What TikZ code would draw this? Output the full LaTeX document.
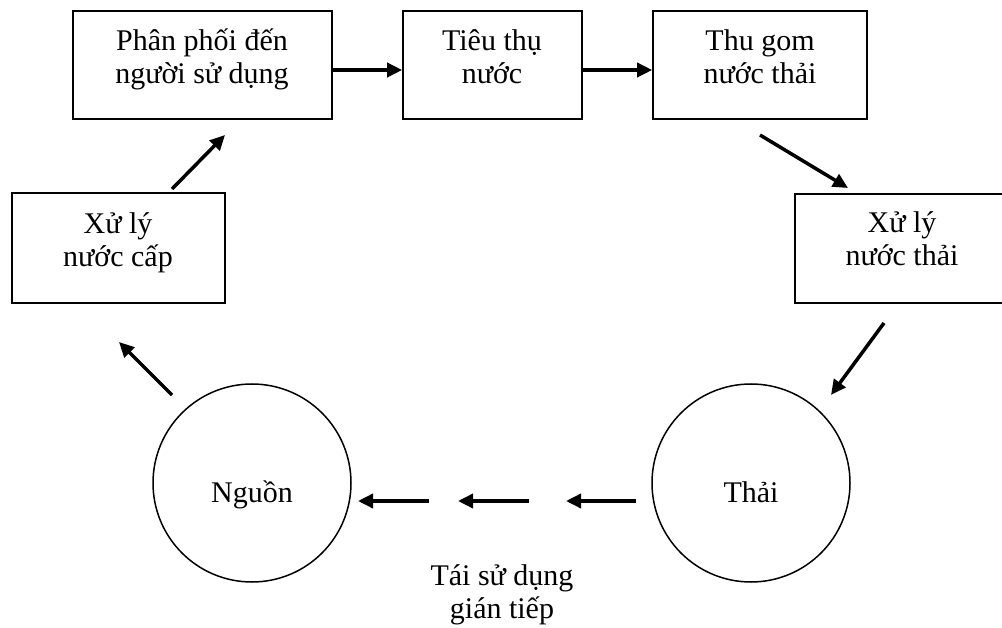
\documentclass[tikz,border=0pt]{standalone}
\usepackage{fontspec}
\setmainfont{Liberation Serif}
\usetikzlibrary{arrows.meta,calc}
\tikzset{
  box/.style={draw, line width=1.6pt, rectangle, inner sep=0pt},
  ring/.style={draw, line width=1.5pt, circle, inner sep=0pt, minimum size=198pt},
  lbl/.style={align=center, inner sep=0pt, font=\fontsize{30}{33}\selectfont},
  flow/.style={line width=3.5pt, -{Triangle[length=15pt,width=14pt]}}
}
\begin{document}
\begin{tikzpicture}[x=1pt,y=-1pt]
\useasboundingbox (0,0) rectangle (1002,628);
\clip (0,0) rectangle (1002,628);
% boxes
\node[box, minimum width=259pt, minimum height=108pt] (b1) at (202.5,65) {};
\node[box, minimum width=179pt, minimum height=108pt] (b2) at (492.5,65) {};
\node[box, minimum width=214pt, minimum height=108pt] (b3) at (760,65) {};
\node[box, minimum width=213pt, minimum height=110pt] (b4) at (118.5,248) {};
\node[box, minimum width=215pt, minimum height=109pt] (b5) at (902.5,248.5) {};
% box texts
\node[lbl] (t1) at (202,60) {\strut Phân phối đến\\\strut người sử dụng};
\node[lbl] (t2) at (492,60) {\strut Tiêu thụ\\\strut nước};
\node[lbl] (t3) at (760,60) {\strut Thu gom\\\strut nước thải};
\node[lbl] (t4) at (118,243) {\strut Xử lý\\\strut nước cấp};
\node[lbl] (t5) at (902,242) {\strut Xử lý\\\strut nước thải};
% circles
\node[ring] (src) at (252,483) {};
\node[ring] (dst) at (751,483) {};
\node[lbl, anchor=base] (tsrc) at (252,502) {Nguồn};
\node[lbl, anchor=base] (tdst) at (751,502) {Thải};
\node[lbl] (treuse) at (502,595) {\strut Tái sử dụng\\\strut gián tiếp};
% arrow end points
\coordinate (a1s) at ($(b1.east)+(0,5)$);
\coordinate (a1e) at ($(b2.west)+(0,5)$);
\coordinate (a2s) at ($(b2.east)+(0,5)$);
\coordinate (a2e) at ($(b3.west)+(0,5)$);
\coordinate (a3s) at (760,135);
\coordinate (a3e) at (848,188);
\coordinate (a4s) at (884,323);
\coordinate (a4e) at (831,395);
\coordinate (a5s) at (636,501);
\coordinate (a5e) at (566,501);
\coordinate (a6s) at (529,501);
\coordinate (a6e) at (458,501);
\coordinate (a7s) at (429,501);
\coordinate (a7e) at (358,501);
\coordinate (a8s) at (172,395);
\coordinate (a8e) at (119,342);
\coordinate (a9s) at (172,189);
\coordinate (a9e) at (225,135);
% arrows
\draw[flow] (a1s) -- (a1e);
\draw[flow] (a2s) -- (a2e);
\draw[flow] (a3s) -- (a3e);
\draw[flow] (a4s) -- (a4e);
\draw[flow] (a5s) -- (a5e);
\draw[flow] (a6s) -- (a6e);
\draw[flow] (a7s) -- (a7e);
\draw[flow] (a8s) -- (a8e);
\draw[flow] (a9s) -- (a9e);
\end{tikzpicture}
\end{document}
